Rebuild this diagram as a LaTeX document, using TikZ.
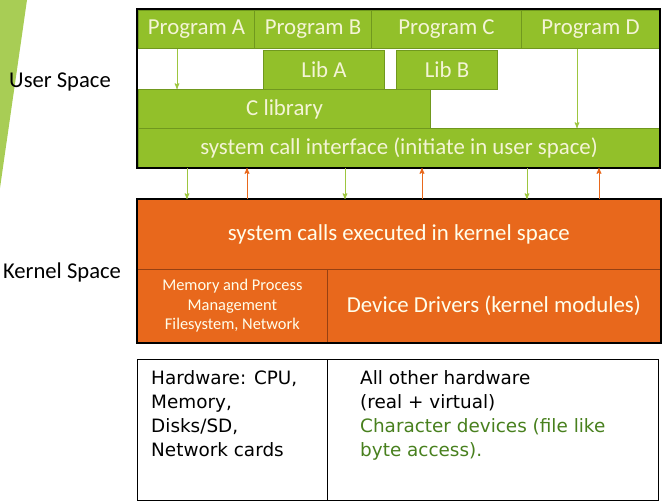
\documentclass[tikz,border=0pt]{standalone}
\usepackage{fontspec}
\setmainfont{Carlito}
\newfontfamily\hwfont{DejaVu Sans}
\usetikzlibrary{positioning,arrows}
\definecolor{usergreen}{RGB}{146,192,42}
\definecolor{userline}{RGB}{112,152,30}
\definecolor{usertext}{RGB}{244,244,214}
\definecolor{kernorange}{RGB}{232,104,28}
\definecolor{kernline}{RGB}{150,64,18}
\definecolor{chardev}{RGB}{72,128,30}
\tikzset{layers/.style={x=0.03cm,y=-0.03cm,>=stealth'},
    userbox/.style={draw=userline,fill=usergreen,line width=0.9pt,text=usertext,anchor=north west,inner sep=0pt,minimum height=1.14cm,font=\fontsize{19.5}{21}\selectfont},
    kernbox/.style={draw=kernline,fill=kernorange,line width=0.6pt,text=white!92!yellow,anchor=north west,inner sep=0pt,align=center},
    hwbox/.style={draw=black,line width=1.2pt,anchor=north west,inner sep=0pt,minimum height=4.23cm},
    hwtext/.style={anchor=north west,inner sep=0pt,align=left,font=\hwfont\fontsize{15.7}{20.6}\selectfont},
    spacelabel/.style={font=\fontsize{19.3}{21}\selectfont},
    toker/.style={->,draw=usergreen!90!white,line width=0.8pt},
    touser/.style={->,draw=kernorange,line width=0.8pt}}

\begin{document}
\begin{tikzpicture}[layers]
\useasboundingbox (0,0) rectangle (667,503);
\fill[usergreen!80!white] (0,0) -- (27,0) -- (0,188) -- cycle;

\node[spacelabel] (uspace) at (60,82) {User Space};
\node[spacelabel] (kspace) at (62,272) {Kernel Space};

% user space
\node[userbox,minimum width=3.48cm] (progA) at (138,10) {Program A};
\node[userbox,minimum width=3.51cm] (progB) at (254,10) {Program B};
\node[userbox,minimum width=4.5cm] (progC) at (371,10) {Program C};
\node[userbox,minimum width=4.14cm] (progD) at (521,10) {Program D};
\node[userbox,minimum width=3.63cm,minimum height=1.17cm] (libA) at (263,50) {Lib A};
\node[userbox,minimum width=3.03cm,minimum height=1.17cm] (libB) at (396,50) {Lib B};
\node[userbox,minimum width=8.76cm,minimum height=1.17cm] (clib) at (138,89) {C library};
\node[userbox,minimum width=15.63cm,minimum height=1.17cm] (sci) at (138,128) {system call interface (initiate in user space)};
\draw[line width=1.2pt] (137,9) rectangle (660,168);

\coordinate (ca) at (177,0);
\coordinate (cd) at (577,0);
\draw[toker] (progA.south -| ca) -- (clib.north -| ca);
\draw[toker] (progD.south -| cd) -- (sci.north -| cd);

% kernel space
\node[kernbox,minimum width=15.69cm,minimum height=2.1cm,font=\fontsize{19.5}{21}\selectfont] (sysk) at (137,199) {system calls executed in kernel space};
\node[kernbox,minimum width=5.7cm,minimum height=2.19cm,font=\fontsize{14}{16.5}\selectfont] (mem) at (137,269) {Memory and Process\\Management\\Filesystem, Network};
\node[kernbox,minimum width=9.99cm,minimum height=2.19cm,font=\fontsize{19.5}{21}\selectfont] (drv) at (327,269) {Device Drivers (kernel modules)};
\draw[line width=1.5pt] (sysk.north west) rectangle (drv.south east);

\foreach \x [count=\i] in {187,345,527} {
    \coordinate (dn\i) at (\x,0);
    \draw[toker] (sci.south -| dn\i) -- (sysk.north -| dn\i);
}
\foreach \x [count=\i] in {247,422,599} {
    \coordinate (up\i) at (\x,0);
    \draw[touser] (sysk.north -| up\i) -- (sci.south -| up\i);
}

% hardware
\node[hwbox,minimum width=5.7cm] (hw) at (137,359) {};
\node[hwbox,minimum width=9.93cm] (other) at (327,359) {};
\node[hwtext] (hwlist) at (151,370) {Hardware: CPU,\\Memory,\\Disks/SD,\\Network cards};
\node[hwtext] (otherlist) at (360,370) {All other hardware\\(real + virtual)\\\textcolor{chardev}{Character devices (file like}\\\textcolor{chardev}{byte access).}};
\end{tikzpicture}
\end{document}
